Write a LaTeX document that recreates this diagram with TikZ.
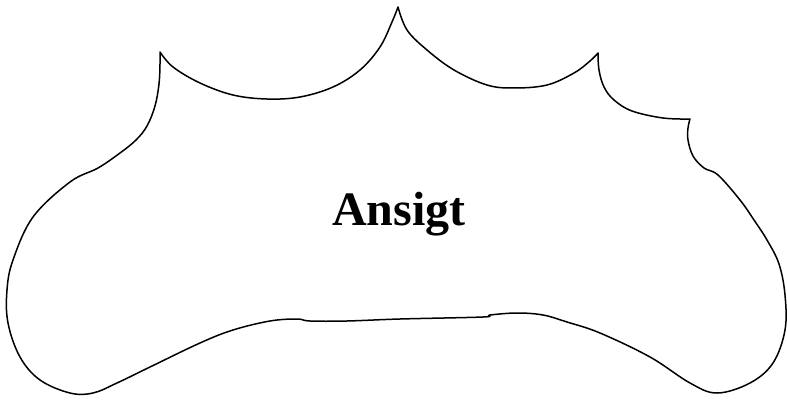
\documentclass[tikz,border=0pt]{standalone}
\usepackage{fontspec}
\setmainfont{Liberation Serif}
\usepackage{tikz}
\tikzset{
  outline/.style={draw=black,line width=1.5pt,line join=round,fill=white},
  facelabel/.style={font=\fontsize{48}{52}\selectfont\bfseries,inner sep=0pt}
}

\begin{document}
\begin{tikzpicture}[x=1pt,y=-1pt]
  \useasboundingbox[fill=white] (0,0) rectangle (787,401);
  % face outline, pieces split at the cusps
  \draw[outline] plot[smooth,tension=0.6] coordinates {(160,52) (173,67) (200,83) (233,95) (267,99) (300,97) (333,87) (360,70) (380,47) (392,22) (398,7)}
    -- plot[smooth,tension=0.6] coordinates {(398,7) (407,30) (427,50) (454,70) (487,85) (514,88) (547,85) (574,73) (590,61) (598,53)}
    -- plot[smooth,tension=0.6] coordinates {(598,53) (599,70) (604,87) (614,100) (632,111) (663,118) (690,119)}
    -- plot[smooth,tension=0.6] coordinates {(690,119) (688,128) (688,140) (693,156) (704,168) (718,175) (740,200) (754,220) (767,240) (779,264) (785,295) (785,330) (773,363) (750,383) (717,393) (690,383) (650,357) (600,333) (567,322) (543,315) (517,313) (490,315) (483,317) (400,319) (347,321) (310,321) (297,319) (270,321) (233,330) (200,343) (150,367) (117,383) (93,393) (70,393) (40,380) (20,357) (8,323) (7,290) (13,260) (33,217) (70,182) (98,168) (120,153) (136,140) (147,126) (155,106) (159,84) (160,64) (160,52)}
    -- cycle;
  \node[facelabel] (title) at (399,214) {Ansigt};
\end{tikzpicture}
\end{document}
